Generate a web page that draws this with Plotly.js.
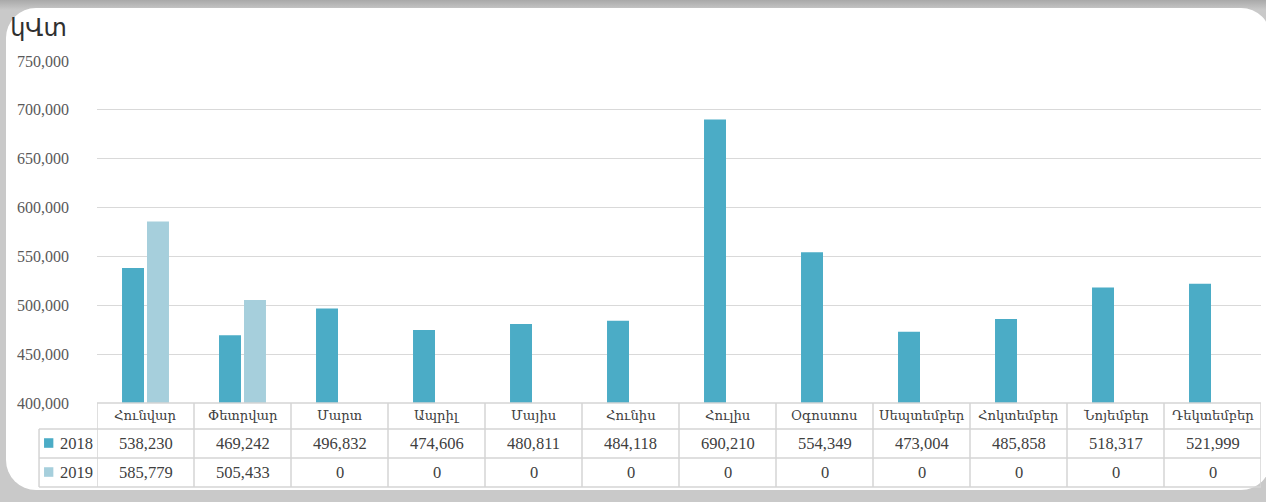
<!DOCTYPE html>
<html>
<head>
<meta charset="utf-8">
<script src="https://cdn.plot.ly/plotly-3.0.1.min.js"></script>
<style>
  html, body { margin:0; padding:0; }
  body { width:1266px; height:502px; overflow:hidden; position:relative;
         background: linear-gradient(to bottom, #a9a9a9 0px, #c9c9c9 10px, #c9c9c9 100%); }
  #frame { position:absolute; left:6px; top:8px; width:1265px; height:482px;
           background:#ffffff; border-radius:30px; }
  #chart { position:absolute; left:0; top:0; width:1266px; height:502px; }
</style>
</head>
<body>
<div id="frame"></div>
<div id="chart"></div>
<script>
const months = ["Հունվար","Փետրվար","Մարտ","Ապրիլ","Մայիս","Հունիս","Հուլիս","Օգոստոս","Սեպտեմբեր","Հոկտեմբեր","Նոյեմբեր","Դեկտեմբեր"];
const series2018 = [538230,469242,496832,474606,480811,484118,690210,554349,473004,485858,518317,521999];
const series2019 = [585779,505433,0,0,0,0,0,0,0,0,0,0];
const seriesNames = ["2018","2019"];
const seriesColors = ["#4bacc6","#a6cfdc"];
const unitLabel = "կՎտ";

const fmt = v => v.toLocaleString("en-US");
const serif = "Liberation Serif, DejaVu Serif, serif";
const txtColor = "#404040";
const lineColor = "#d4d4d4";

const traces = [series2018, series2019].map((vals, i) => ({
  type: "bar", name: seriesNames[i], x: months, y: vals,
  marker: { color: seriesColors[i] }, hoverinfo: "none"
}));

// table geometry in paper units (plot area: 1164 x 342 px)
const rowY = [-0.036, -0.117, -0.2018];
const lineY = [0, -0.076, -0.1608, -0.2456];
const legendLeft = -0.0498;

const annotations = [];
const shapes = [];
months.forEach((m, i) => {
  annotations.push({ x: m, xref: "x", y: rowY[0], yref: "paper", text: m, showarrow: false,
    font: { family: serif, size: 13.2, color: txtColor }, xanchor: "center", yanchor: "middle" });
  annotations.push({ x: m, xref: "x", y: rowY[1], yref: "paper", text: fmt(series2018[i]), showarrow: false,
    font: { family: serif, size: 16.5, color: txtColor }, xanchor: "center", yanchor: "middle" });
  annotations.push({ x: m, xref: "x", y: rowY[2], yref: "paper", text: fmt(series2019[i]), showarrow: false,
    font: { family: serif, size: 16.5, color: txtColor }, xanchor: "center", yanchor: "middle" });
});
// vertical lines at category boundaries
for (let k = 0; k <= months.length; k++) {
  shapes.push({ type: "line", xref: "x", yref: "paper", x0: k - 0.5, x1: k - 0.5,
    y0: lineY[0], y1: lineY[3], line: { color: lineColor, width: 1.5 } });
}
// horizontal lines
shapes.push({ type: "line", xref: "paper", yref: "paper", x0: 0, x1: 1, y0: 0, y1: 0,
  line: { color: lineColor, width: 1.5 } });
for (let r = 1; r <= 3; r++) {
  shapes.push({ type: "line", xref: "paper", yref: "paper", x0: legendLeft, x1: 1, y0: lineY[r], y1: lineY[r],
    line: { color: lineColor, width: 1.5 } });
}
shapes.push({ type: "line", xref: "paper", yref: "paper", x0: legendLeft, x1: legendLeft, y0: lineY[1], y1: lineY[3],
  line: { color: lineColor, width: 1.5 } });
// legend keys in the table
seriesNames.forEach((n, i) => {
  const yc = rowY[i + 1];
  shapes.push({ type: "rect", xref: "paper", yref: "paper",
    x0: -0.0455, x1: -0.0375, y0: yc - 0.014, y1: yc + 0.014,
    fillcolor: seriesColors[i], line: { width: 0 } });
  annotations.push({ x: -0.0335, xref: "paper", y: yc, yref: "paper", text: n, showarrow: false,
    font: { family: serif, size: 16.5, color: txtColor }, xanchor: "left", yanchor: "middle" });
});

const layout = {
  width: 1266, height: 502,
  margin: { l: 97, r: 5, t: 61, b: 99 },
  paper_bgcolor: "rgba(0,0,0,0)", plot_bgcolor: "rgba(0,0,0,0)",
  showlegend: false,
  barmode: "group", bargap: 0.485, bargroupgap: 0.12,
  title: { text: unitLabel, xref: "container", yref: "container", x: 0.008, xanchor: "left",
    y: 0.962, yanchor: "top", font: { family: "DejaVu Sans", size: 24, color: "#303030" } },
  xaxis: { showticklabels: false, showgrid: false, zeroline: false, showline: false,
    range: [-0.5, 11.5], fixedrange: true },
  yaxis: { range: [400000, 750000], tickvals: [400000,450000,500000,550000,600000,650000,700000,750000],
    tickformat: ",d", showgrid: true, gridcolor: "#d9d9d9", gridwidth: 1.2, zeroline: false, showline: false,
    ticks: "", ticklabelstandoff: 27,
    tickfont: { family: serif, size: 16, color: "#595959" }, fixedrange: true },
  annotations: annotations, shapes: shapes
};

Plotly.newPlot("chart", traces, layout, { displayModeBar: false, staticPlot: true });
</script>
</body>
</html>
